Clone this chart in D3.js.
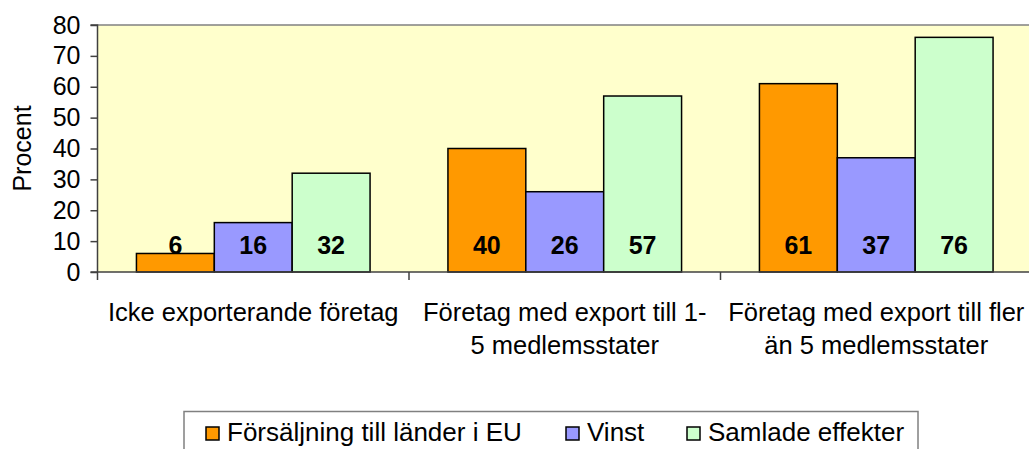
<!DOCTYPE html>
<html>
<head>
<meta charset="utf-8">
<script src="https://cdn.jsdelivr.net/npm/d3@7"></script>
<style>
  body { margin: 0; background: #fff; }
  svg { display: block; font-family: "Liberation Sans", Arial, sans-serif; }
</style>
</head>
<body>
<svg width="1029" height="449"></svg>
<script>
const categories = [
  ["Icke exporterande företag"],
  ["Företag med export till 1-", "5 medlemsstater"],
  ["Företag med export till fler", "än 5 medlemsstater"]
];
const seriesNames = ["Försäljning till länder i EU", "Vinst", "Samlade effekter"];
const seriesColors = ["#FF9900", "#9999FF", "#CCFFCC"];
const forsaljning = [6, 40, 61];
const vinst = [16, 26, 37];
const samlade = [32, 57, 76];
const yTicks = [0, 10, 20, 30, 40, 50, 60, 70, 80];

const series = [forsaljning, vinst, samlade];
const rows = categories.map((c, i) => ({
  idx: i,
  values: series.map((s, j) => ({ key: seriesNames[j], value: s[i], color: seriesColors[j] }))
}));

const svg = d3.select('svg');
const plotLeft = 97.5, plotRight = 1032, plotTop = 25, plotBottom = 272;

const x0 = d3.scaleBand()
  .domain(d3.range(categories.length))
  .range([plotLeft, plotRight]);
const x1 = d3.scaleBand()
  .domain(seriesNames)
  .range([0, x0.bandwidth()])
  .paddingOuter(0.5);
const y = d3.scaleLinear()
  .domain([0, 80])
  .range([plotBottom, plotTop]);

// plot area
svg.append('rect')
  .attr('x', plotLeft).attr('y', plotTop)
  .attr('width', plotRight - plotLeft).attr('height', plotBottom - plotTop)
  .attr('fill', '#FFFFCC');
svg.append('line')
  .attr('x1', plotLeft).attr('x2', plotRight)
  .attr('y1', plotTop).attr('y2', plotTop)
  .attr('stroke', '#808080').attr('stroke-width', 1.5);

// bars
const groups = svg.selectAll('g.grp')
  .data(rows)
  .enter().append('g')
  .attr('class', 'grp')
  .attr('transform', d => `translate(${x0(d.idx)},0)`);

groups.selectAll('rect')
  .data(d => d.values)
  .enter().append('rect')
  .attr('x', d => x1(d.key))
  .attr('y', d => y(d.value))
  .attr('width', x1.bandwidth())
  .attr('height', d => y(0) - y(d.value))
  .attr('fill', d => d.color)
  .attr('stroke', '#000')
  .attr('stroke-width', 1.5);

groups.selectAll('text.val')
  .data(d => d.values)
  .enter().append('text')
  .attr('class', 'val')
  .attr('x', d => x1(d.key) + x1.bandwidth() / 2)
  .attr('y', plotBottom - 18)
  .attr('text-anchor', 'middle')
  .style('font-size', '25px')
  .style('font-weight', 'bold')
  .text(d => d.value);

// y axis
const yAxis = d3.axisLeft(y).tickValues(yTicks).tickSize(7).tickPadding(10);
const yg = svg.append('g')
  .attr('transform', `translate(${plotLeft},0)`)
  .call(yAxis);
yg.select('.domain').attr('stroke', '#404040').attr('stroke-width', 1.5)
  .attr('d', `M-7,${plotTop}H0V${plotBottom}`);
yg.selectAll('.tick line').attr('stroke', '#404040').attr('stroke-width', 1.5);
yg.selectAll('.tick text')
  .attr('fill', '#000')
  .style('font-size', '25px')
  .style('font-family', '"Liberation Sans", Arial, sans-serif');

// x axis
svg.append('line')
  .attr('x1', plotLeft - 7).attr('x2', plotRight)
  .attr('y1', plotBottom).attr('y2', plotBottom)
  .attr('stroke', '#404040').attr('stroke-width', 1.5);
svg.selectAll('line.xtick')
  .data(d3.range(categories.length))
  .enter().append('line')
  .attr('class', 'xtick')
  .attr('x1', d => x0(d)).attr('x2', d => x0(d))
  .attr('y1', plotBottom).attr('y2', plotBottom + 8)
  .attr('stroke', '#404040').attr('stroke-width', 1.5);

const catText = svg.selectAll('text.cat')
  .data(categories)
  .enter().append('text')
  .attr('class', 'cat')
  .attr('text-anchor', 'middle')
  .style('font-size', '25.5px');
catText.selectAll('tspan')
  .data((d, i) => d.map(line => ({ line, i })))
  .enter().append('tspan')
  .attr('x', d => x0(d.i) + x0.bandwidth() / 2)
  .attr('y', (d, k) => 321 + k * 33)
  .text(d => d.line);

// y title
svg.append('text')
  .attr('transform', `translate(31,${(plotTop + plotBottom) / 2}) rotate(-90)`)
  .attr('text-anchor', 'middle')
  .style('font-size', '25px')
  .text('Procent');

// legend
const legend = svg.append('g');
legend.append('rect')
  .attr('x', 184).attr('y', 411.5)
  .attr('width', 734).attr('height', 50)
  .attr('fill', '#fff')
  .attr('stroke', '#808080').attr('stroke-width', 1.5);
const legendX = [206, 566, 687];
const items = legend.selectAll('g.item')
  .data(seriesNames)
  .enter().append('g')
  .attr('transform', (d, i) => `translate(${legendX[i]},0)`);
items.append('rect')
  .attr('x', 0).attr('y', 427)
  .attr('width', 13).attr('height', 13)
  .attr('fill', (d, i) => seriesColors[i])
  .attr('stroke', '#000').attr('stroke-width', 1.5);
items.append('text')
  .attr('x', 21).attr('y', 441)
  .style('font-size', '26px')
  .text(d => d);
</script>
</body>
</html>
